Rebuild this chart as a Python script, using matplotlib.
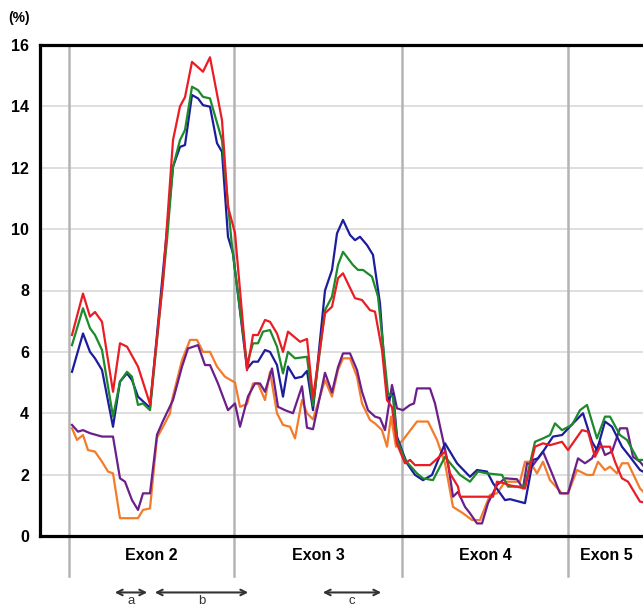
import numpy as np
import matplotlib
matplotlib.use("Agg")
import matplotlib.pyplot as plt

plt.rcParams['font.family'] = ['Liberation Sans', 'DejaVu Sans']

# positions along the transcript (arbitrary units) and coverage values (%)
red_x = [3, 14, 21, 26, 33, 44, 51, 58, 69, 81, 94, 104, 111, 116, 123, 134, 141, 153, 159, 166, 178,
         184, 189, 196, 201, 208, 214, 219, 231, 238, 244, 256, 263, 269, 274, 286, 293, 301, 306, 313,
         318, 323, 328, 336, 341, 346, 361, 376, 381, 389, 391, 424, 428, 434, 441, 456, 466, 474, 481,
         493, 499, 513, 519, 526, 531, 541, 546, 553, 559, 571, 574]
red_y = [6.55, 7.9, 7.15, 7.3, 6.98, 4.7, 6.28, 6.17, 5.52, 4.3, 8.3, 12.9, 14.0, 14.3, 15.45, 15.13, 15.6,
         13.55, 10.73, 9.87, 5.4, 6.55, 6.55, 7.04, 6.98, 6.6, 6.0, 6.66, 6.33, 6.42, 4.5, 7.26, 7.47, 8.4,
         8.56, 7.75, 7.69, 7.36, 7.31, 6.06, 4.43, 4.2, 3.0, 2.37, 2.48, 2.31, 2.31, 2.75, 2.04, 1.61, 1.28,
         1.28, 1.77, 1.73, 1.65, 1.55, 2.91, 3.02, 2.96, 3.07, 2.8, 3.45, 3.4, 2.58, 2.91, 2.91, 2.42, 1.88,
         1.77, 1.12, 1.1]

green_x = [3, 14, 21, 26, 33, 44, 51, 58, 63, 69, 74, 81, 98, 104, 111, 116, 123, 129, 134, 141, 153, 163,
           178, 184, 189, 194, 201, 208, 214, 219, 226, 238, 244, 256, 263, 269, 274, 284, 289, 294, 303,
           309, 319, 324, 328, 336, 348, 354, 364, 376, 391, 401, 409, 418, 433, 439, 451, 456, 466, 474,
           481, 486, 493, 503, 511, 518, 528, 536, 541, 551, 558, 569, 574]
green_y = [6.22, 7.42, 6.77, 6.55, 6.06, 3.89, 5.03, 5.35, 5.19, 4.27, 4.32, 4.1, 9.64, 12.03, 12.9, 13.23,
           14.64, 14.53, 14.31, 14.26, 12.9, 9.43, 5.6, 6.28, 6.28, 6.66, 6.71, 6.17, 5.3, 6.0, 5.79, 5.84,
           4.25, 7.36, 7.8, 8.83, 9.26, 8.83, 8.67, 8.67, 8.45, 7.8, 4.65, 4.54, 3.13, 2.48, 2.04, 1.88, 1.82,
           2.58, 1.99, 1.77, 2.1, 2.04, 1.99, 1.61, 1.61, 1.66, 3.07, 3.18, 3.29, 3.67, 3.45, 3.62, 4.1, 4.27,
           3.18, 3.89, 3.89, 3.29, 3.13, 2.48, 2.48]

blue_x = [3, 14, 21, 26, 33, 44, 51, 58, 63, 69, 81, 104, 111, 116, 123, 129, 134, 141, 148, 153, 159, 164,
          178, 184, 189, 196, 201, 208, 214, 219, 226, 233, 238, 244, 256, 263, 268, 274, 281, 286, 291, 298,
          304, 311, 316, 319, 324, 328, 334, 338, 346, 354, 363, 376, 388, 401, 408, 418, 424, 436, 441, 456,
          464, 469, 474, 484, 493, 504, 514, 523, 528, 536, 543, 553, 561, 571, 574]
blue_y = [5.35, 6.6, 6.0, 5.79, 5.41, 3.56, 5.03, 5.3, 5.08, 4.54, 4.18, 12.03, 12.68, 12.74, 14.37, 14.26,
          14.04, 13.99, 12.8, 12.52, 9.75, 9.21, 5.45, 5.68, 5.68, 6.06, 6.0, 5.57, 4.54, 5.52, 5.14, 5.19,
          5.38, 4.1, 8.0, 8.67, 9.86, 10.3, 9.81, 9.64, 9.75, 9.48, 9.16, 7.58, 5.3, 4.43, 4.65, 3.24, 2.7,
          2.37, 1.99, 1.82, 1.99, 3.02, 2.37, 1.93, 2.15, 2.1, 1.72, 1.17, 1.2, 1.07, 2.48, 2.53, 2.75, 3.24,
          3.29, 3.67, 4.0, 3.07, 2.8, 3.73, 3.56, 2.91, 2.58, 2.15, 2.1]

orange_x = [3, 8, 14, 19, 26, 33, 39, 44, 51, 69, 74, 81, 88, 94, 101, 103, 113, 121, 128, 134, 141, 148,
            156, 166, 171, 178, 184, 189, 196, 201, 208, 214, 221, 226, 233, 238, 244, 256, 263, 269, 274,
            281, 288, 293, 301, 306, 313, 318, 322, 327, 334, 348, 359, 368, 376, 384, 394, 403, 411, 421,
            428, 436, 451, 456, 461, 468, 474, 481, 493, 499, 508, 518, 524, 529, 536, 541, 548, 553, 559,
            571, 574]
orange_y = [3.51, 3.13, 3.29, 2.8, 2.75, 2.42, 2.1, 2.04, 0.58, 0.58, 0.85, 0.9, 3.2, 3.56, 4.0, 4.43, 5.73,
            6.39, 6.39, 6.0, 6.0, 5.52, 5.19, 5.0, 4.21, 4.3, 4.97, 4.97, 4.43, 5.35, 4.0, 3.62, 3.56, 3.18,
            4.43, 4.0, 3.8, 5.08, 4.54, 5.41, 5.79, 5.79, 5.19, 4.32, 3.78, 3.67, 3.45, 2.91, 3.89, 2.91, 3.13,
            3.73, 3.73, 3.13, 2.37, 0.95, 0.74, 0.52, 0.52, 1.34, 1.39, 1.77, 1.77, 2.42, 2.42, 2.04, 2.42,
            1.82, 1.39, 1.39, 2.15, 1.99, 1.99, 2.42, 2.15, 2.26, 2.04, 2.37, 2.37, 1.55, 1.45]

purple_x = [3, 9, 14, 21, 33, 44, 51, 56, 63, 69, 74, 81, 88, 94, 104, 113, 119, 129, 136, 141, 149, 159,
            166, 171, 179, 186, 191, 196, 203, 209, 216, 224, 233, 238, 244, 256, 263, 269, 274, 281, 288,
            293, 299, 306, 311, 316, 323, 328, 334, 341, 345, 348, 361, 366, 374, 379, 384, 389, 396, 401,
            408, 413, 419, 428, 436, 448, 454, 458, 464, 474, 483, 491, 499, 509, 516, 523, 531, 536, 543,
            551, 558, 564, 571, 574]
purple_y = [3.62, 3.4, 3.45, 3.35, 3.24, 3.24, 1.88, 1.77, 1.17, 0.85, 1.39, 1.39, 3.3, 3.75, 4.43, 5.52,
            6.11, 6.22, 5.57, 5.57, 4.97, 4.1, 4.32, 3.56, 4.55, 4.97, 4.97, 4.7, 5.46, 4.21, 4.1, 4.0, 4.88,
            3.53, 3.48, 5.32, 4.68, 5.5, 5.95, 5.95, 5.41, 4.7, 4.1, 3.89, 3.84, 3.45, 4.92, 4.16, 4.1, 4.27,
            4.32, 4.81, 4.81, 4.32, 3.13, 2.37, 1.28, 1.44, 0.95, 0.74, 0.41, 0.41, 1.07, 1.66, 1.88, 1.85,
            1.55, 2.37, 2.31, 2.75, 2.04, 1.39, 1.39, 2.53, 2.37, 2.53, 3.07, 2.64, 2.75, 3.51, 3.51, 2.58,
            2.42, 2.3]

exon_edges = [0, 165, 333, 499]
exon_names = ["Exon 2", "Exon 3", "Exon 4", "Exon 5"]
exon_centers = [82, 249, 416, 537]
regions = [("a", 43, 81), ("b", 83, 182), ("c", 251, 315)]

fig = plt.figure(figsize=(6.43, 6.09), dpi=100)
ax = fig.add_axes([40 / 643, 1 - 536 / 609, 603 / 643, 491 / 609])

ax.plot(orange_x, orange_y, color="#f47b2a", lw=1.6, zorder=3)
ax.plot(purple_x, purple_y, color="#6b1f8a", lw=1.6, zorder=3)
ax.plot(blue_x, blue_y, color="#1c1c9c", lw=1.6, zorder=3)
ax.plot(green_x, green_y, color="#1d8a2b", lw=1.6, zorder=3)
ax.plot(red_x, red_y, color="#ea1c24", lw=1.6, zorder=3)

ax.set_xlim(-29, 574)
ax.set_ylim(0, 16)
ax.set_yticks(np.arange(0, 17, 2))
ax.set_yticklabels([str(v) for v in range(0, 17, 2)], fontsize=11.5, fontweight="bold")
ax.tick_params(axis="y", length=0, pad=8)
ax.set_xticks([])

for v in range(2, 16, 2):
    ax.axhline(v, color="#dcdcdc", lw=1.3, zorder=1)

for e in exon_edges:
    ax.plot([e, e], [-1.3, 16], color="#b4b4b4", lw=1.8, zorder=1, clip_on=False)

for name, c in zip(exon_names, exon_centers):
    ax.text(c, -0.65, name, ha="center", va="center", fontsize=11.5, fontweight="bold")

for lab, x0, x1 in regions:
    ax.annotate("", xy=(x0, -1.84), xytext=(x1, -1.84), annotation_clip=False,
                arrowprops=dict(arrowstyle="<->", color="#333333", lw=1.5))
    ax.text((x0 + x1) / 2, -1.93, lab, ha="center", va="top", fontsize=9.5, color="#333333",
            clip_on=False)

for s in ["left", "bottom", "top"]:
    ax.spines[s].set_linewidth(2.3)
ax.spines["right"].set_visible(False)

fig.text(8 / 643, 1 - 18 / 609, "(%)", fontsize=10, fontweight="bold", va="center", ha="left")

fig.savefig("out.png", dpi=100)
